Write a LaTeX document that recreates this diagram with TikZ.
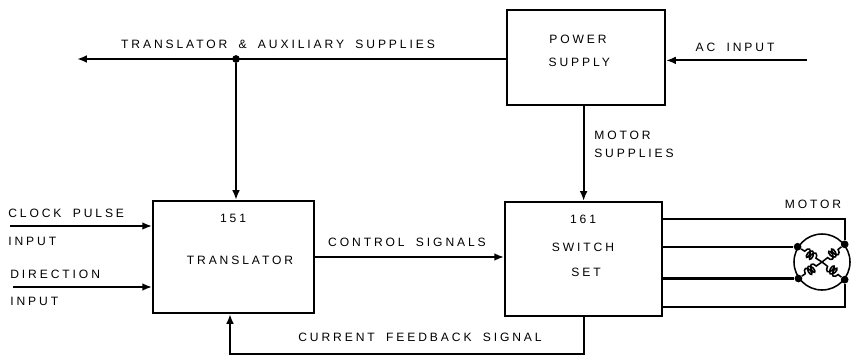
\documentclass[tikz,border=0pt]{standalone}
\usepackage{fontspec}
\setmainfont[LetterSpace=24,WordSpace=1.8]{Liberation Sans}
\usetikzlibrary{arrows.meta,decorations.pathmorphing}
\tikzset{
  block/.style={draw,line width=1.4pt,inner sep=0pt},
  sig/.style={line width=1.5pt,-{Latex[length=7pt,width=5.5pt]}},
  wire/.style={line width=1.5pt},
  lbl/.style={font=\fontsize{8.6}{10}\selectfont,inner sep=0pt},
  dot/.style={circle,fill,inner sep=0pt,minimum size=5.5pt},
  winding/.style={line width=1.1pt,decorate,decoration={coil,aspect=0.5,segment length=2.6pt,amplitude=3pt,pre length=3pt,post length=5pt}}
}
\begin{document}
\begin{tikzpicture}
\useasboundingbox (0,0) rectangle (21.275,8.85);

\node[block,minimum width=3.95cm,minimum height=2.375cm] (power) at (14.65,7.4125) {};
\node[block,minimum width=4.025cm,minimum height=2.8cm] (trans) at (5.84,2.425) {};
\node[block,minimum width=3.925cm,minimum height=2.85cm] (switch) at (14.59,2.375) {};
\node[draw,circle,line width=1.1pt,inner sep=0pt,minimum size=1.4cm] (motor) at (20.55,2.3) {};

\node[lbl] (pwa) at (14.45,7.875) {POWER};
\node[lbl] (pwb) at (14.48,7.3) {SUPPLY};
\node[lbl] (trnum) at (5.825,3.4) {151};
\node[lbl] (trname) at (6.0,2.35) {TRANSLATOR};
\node[lbl] (swnum) at (14.575,3.375) {161};
\node[lbl] (swa) at (14.575,2.675) {SWITCH};
\node[lbl] (swb) at (14.65,2.05) {SET};

% supplies
\coordinate (supl) at (1.925,7.375);
\coordinate (acin) at (20.175,7.34);
\node[dot] (junc) at (5.9,7.375) {};
\draw[sig] (power.west |- supl) -- (supl);
\draw[sig] (acin) -- (acin -| power.east);
\draw[sig] (junc) -- (junc |- trans.north);
\draw[sig] (switch.north |- power.south) -- (switch.north);
\node[lbl] (tasup) at (6.95,7.75) {TRANSLATOR \& AUXILIARY SUPPLIES};
\node[lbl] (aclab) at (18.375,7.675) {AC INPUT};
\node[lbl,anchor=west] (mota) at (14.85,5.475) {MOTOR};
\node[lbl,anchor=west] (motb) at (14.85,5.025) {SUPPLIES};

% inputs
\coordinate (clk) at (0.25,3.2);
\coordinate (dir) at (0.325,1.675);
\draw[sig] (clk) -- (clk -| trans.west);
\draw[sig] (dir) -- (dir -| trans.west);
\node[lbl,anchor=west] (clka) at (0.2,3.525) {CLOCK PULSE};
\node[lbl,anchor=west] (clkb) at (0.2,2.825) {INPUT};
\node[lbl,anchor=west] (dira) at (0.25,2.0) {DIRECTION};
\node[lbl,anchor=west] (dirb) at (0.25,1.325) {INPUT};

% signals
\draw[sig] (trans.east) -- (trans.east -| switch.west);
\draw[sig] (switch.south) -- ++(0,-0.925) -| ([xshift=-0.09cm]trans.south);
\node[lbl] (ctl) at (10.175,2.8) {CONTROL SIGNALS};
\node[lbl] (fbk) at (10.5,0.425) {CURRENT FEEDBACK SIGNAL};

% motor
\node[dot] (ma) at (motor.148) {};
\node[dot] (mb) at (motor.215) {};
\node[dot] (mc) at (motor.38) {};
\node[dot] (md) at (motor.-38) {};
\draw[wire] (ma -| switch.east) -- (ma);
\draw[wire] (mb -| switch.east) -- (mb);
\draw[wire] (switch.east |- 0,3.375) -| (mc);
\draw[wire] (switch.east |- 0,1.175) -| (md);
\draw[winding] (ma) -- (motor.center);
\draw[winding] (mb) -- (motor.center);
\draw[winding] (mc) -- (motor.center);
\draw[winding] (md) -- (motor.center);
\node[lbl] (motl) at (20.325,3.75) {MOTOR};
\end{tikzpicture}
\end{document}
